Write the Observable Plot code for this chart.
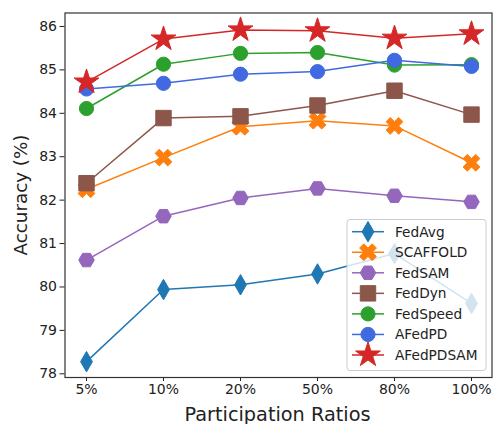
<!DOCTYPE html>
<html><head><meta charset="utf-8">
<script src="https://cdn.jsdelivr.net/npm/d3@7"></script>
<script src="https://cdn.jsdelivr.net/npm/@observablehq/plot@0.6"></script>
<style>body{margin:0;background:#fff} #chart svg{font-family:"DejaVu Sans",sans-serif}</style>
</head><body><div id="chart"></div>
<script>
const ratios = ["5%", "10%", "20%", "50%", "80%", "100%"];
const methods = ["FedAvg", "SCAFFOLD", "FedSAM", "FedDyn", "FedSpeed", "AFedPD", "AFedPDSAM"];
const fedAvg    = [78.28, 79.94, 80.05, 80.30, 80.77, 79.62];
const scaffold  = [82.25, 82.98, 83.69, 83.83, 83.71, 82.86];
const fedSAM    = [80.62, 81.63, 82.05, 82.27, 82.10, 81.96];
const fedDyn    = [82.39, 83.89, 83.93, 84.18, 84.52, 83.97];
const fedSpeed  = [84.11, 85.13, 85.38, 85.40, 85.11, 85.12];
const aFedPD    = [84.56, 84.69, 84.90, 84.96, 85.22, 85.08];
const aFedPDSAM = [84.72, 85.71, 85.92, 85.90, 85.73, 85.83];
const yTicks = [78, 79, 80, 81, 82, 83, 84, 85, 86];
const colors = ["#1f77b4", "#ff7f0e", "#9467bd", "#8c564b", "#2ca02c", "#4169e1", "#d62728"];
const seriesValues = [fedAvg, scaffold, fedSAM, fedDyn, fedSpeed, aFedPD, aFedPDSAM];

// marker shapes (matplotlib-like)
const xPts = [[-0.25,-0.5],[0,-0.25],[0.25,-0.5],[0.5,-0.25],[0.25,0],[0.5,0.25],[0.25,0.5],[0,0.25],[-0.25,0.5],[-0.5,0.25],[-0.25,0],[-0.5,-0.25]];
const symX = {draw(ctx, size) {
  const s = Math.sqrt(size / Math.PI) * 2.4;
  ctx.moveTo(xPts[0][0] * s, xPts[0][1] * s);
  for (let i = 1; i < xPts.length; i++) ctx.lineTo(xPts[i][0] * s, xPts[i][1] * s);
  ctx.closePath();
}};
const symHex = {draw(ctx, size) {
  const R = Math.sqrt(size / Math.PI) * 1.05;
  for (let i = 0; i < 6; i++) {
    const a = i * Math.PI / 3;
    if (i === 0) ctx.moveTo(R * Math.cos(a), R * Math.sin(a));
    else ctx.lineTo(R * Math.cos(a), R * Math.sin(a));
  }
  ctx.closePath();
}};
const symbols = [d3.symbolDiamond, symX, symHex, d3.symbolSquare, d3.symbolCircle, d3.symbolCircle, d3.symbolStar];
const radii = [6.2, 7, 7.4, 8.7, 7.1, 7.1, 7.8];

const marks = [];
methods.forEach((m, k) => {
  const rows = ratios.map((r, i) => ({method: m, ratio: r, acc: seriesValues[k][i]}));
  marks.push(Plot.line(rows, {x: "ratio", y: "acc", stroke: colors[k], strokeWidth: 1.5}));
  marks.push(Plot.dot(rows, {x: "ratio", y: "acc", symbol: symbols[k], r: radii[k], fill: colors[k], stroke: colors[k], strokeWidth: 1}));
});

const svg = Plot.plot({
  width: 497, height: 424,
  marginLeft: 64.5, marginRight: 5.5, marginTop: 12.5, marginBottom: 47,
  style: {fontFamily: "'DejaVu Sans', sans-serif", fontSize: "14px", color: "#222", background: "#fff", overflow: "visible"},
  x: {type: "point", domain: ratios, padding: 0.24},
  y: {domain: [77.915, 86.31]},
  marks: [
    Plot.axisX({tickSize: 4, tickPadding: 3, label: null, fontSize: 14}),
    Plot.axisY(yTicks, {tickSize: 5, tickPadding: 3, label: null, fontSize: 14}),
    ...marks,
    Plot.frame({stroke: "#333", strokeWidth: 1.2})
  ]
});
document.getElementById("chart").appendChild(svg);

const s = d3.select(svg);
s.append("text").attr("x", 277.5).attr("y", 420.5).attr("text-anchor", "middle")
  .attr("font-size", 19.3).attr("fill", "#222").text("Participation Ratios");
s.append("text").attr("transform", "translate(26.5,195) rotate(-90)").attr("text-anchor", "middle")
  .attr("font-size", 18.3).attr("fill", "#222").text("Accuracy (%)");

// legend
const lg = s.append("g");
lg.append("rect").attr("x", 347).attr("y", 219.5).attr("width", 139).attr("height", 151).attr("rx", 3)
  .attr("fill", "#fff").attr("fill-opacity", 0.8).attr("stroke", "#ccc").attr("stroke-width", 1);
methods.forEach((m, k) => {
  const y = 231.7 + k * 20.55;
  lg.append("line").attr("x1", 352).attr("x2", 384).attr("y1", y).attr("y2", y)
    .attr("stroke", colors[k]).attr("stroke-width", 1.5);
  lg.append("path").attr("transform", `translate(368,${y})`)
    .attr("d", d3.symbol(symbols[k], Math.PI * radii[k] * radii[k])())
    .attr("fill", colors[k]).attr("stroke", colors[k]).attr("stroke-width", 1);
  lg.append("text").attr("x", 395).attr("y", y).attr("dy", "0.36em").attr("font-size", 13.7)
    .attr("text-anchor", "start").attr("fill", "#222").text(m);
});
</script>
</body></html>
